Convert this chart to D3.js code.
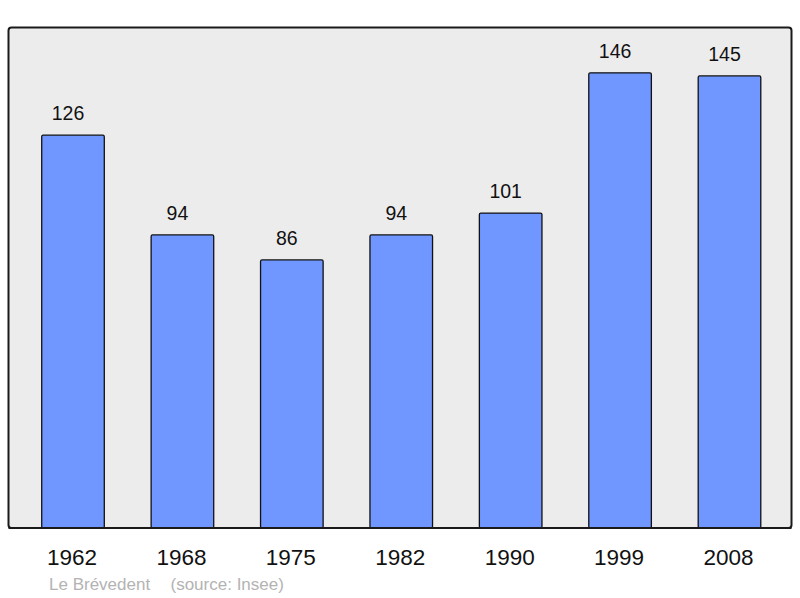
<!DOCTYPE html>
<html><head><meta charset="utf-8">
<script src="https://cdn.jsdelivr.net/npm/d3@7"></script>
<style>body{margin:0;background:#fff}svg{display:block}text{font-family:"Liberation Sans",Arial,sans-serif}</style>
</head><body>
<script>
const years = ["1962","1968","1975","1982","1990","1999","2008"];
const population = [126, 94, 86, 94, 101, 146, 145];
const placeName = "Le Brévedent";
const sourceText = "(source: Insee)";

const W = 800, H = 598;
const panel = {x: 8.5, y: 27.5, w: 783, h: 500.5};
const svg = d3.select("body").append("svg").attr("width", W).attr("height", H);

svg.append("rect").attr("x", panel.x).attr("y", panel.y).attr("width", panel.w).attr("height", panel.h)
  .attr("rx", 3).attr("fill", "#ececec").attr("stroke", "#1a1a1a").attr("stroke-width", 2);

const x = d3.scaleBand().domain(years).range([18.3, 784.2]).paddingInner(0.428).paddingOuter(0.214);
const y = d3.scaleLinear().domain([0, 160.7]).range([528, 27]);

svg.selectAll("rect.bar").data(population).join("rect").attr("class","bar")
  .attr("x", (d,i) => x(years[i]))
  .attr("y", d => y(d))
  .attr("width", x.bandwidth())
  .attr("height", d => y(0) - y(d))
  .attr("rx", 1.5)
  .attr("fill", "#7096ff").attr("stroke", "#111").attr("stroke-width", 1.3);

svg.selectAll("text.val").data(population).join("text").attr("class","val")
  .attr("x", (d,i) => x(years[i]) + x.bandwidth()/2 - 5)
  .attr("y", d => y(d) - 15)
  .attr("text-anchor", "middle").attr("font-size", 19.5).attr("fill", "#111")
  .text(d => d);

svg.append("line").attr("x1", panel.x).attr("x2", panel.x+panel.w).attr("y1", 528).attr("y2", 528)
  .attr("stroke", "#1a1a1a").attr("stroke-width", 2);

const xAxis = svg.append("g").attr("transform", "translate(0,528)")
  .call(d3.axisBottom(x).tickSize(0).tickPadding(0));
xAxis.select(".domain").remove();
xAxis.selectAll("text").attr("font-size", 22.5).attr("fill", "#111")
  .attr("font-family", '"Liberation Sans",Arial,sans-serif')
  .attr("dy", null).attr("y", 37).attr("dx", -1);

svg.append("text").attr("x", 49).attr("y", 590).attr("font-size", 17).attr("fill", "#b3b3b3").text(placeName);
svg.append("text").attr("x", 170.5).attr("y", 590).attr("font-size", 17).attr("fill", "#b3b3b3").text(sourceText);
</script>
</body></html>
